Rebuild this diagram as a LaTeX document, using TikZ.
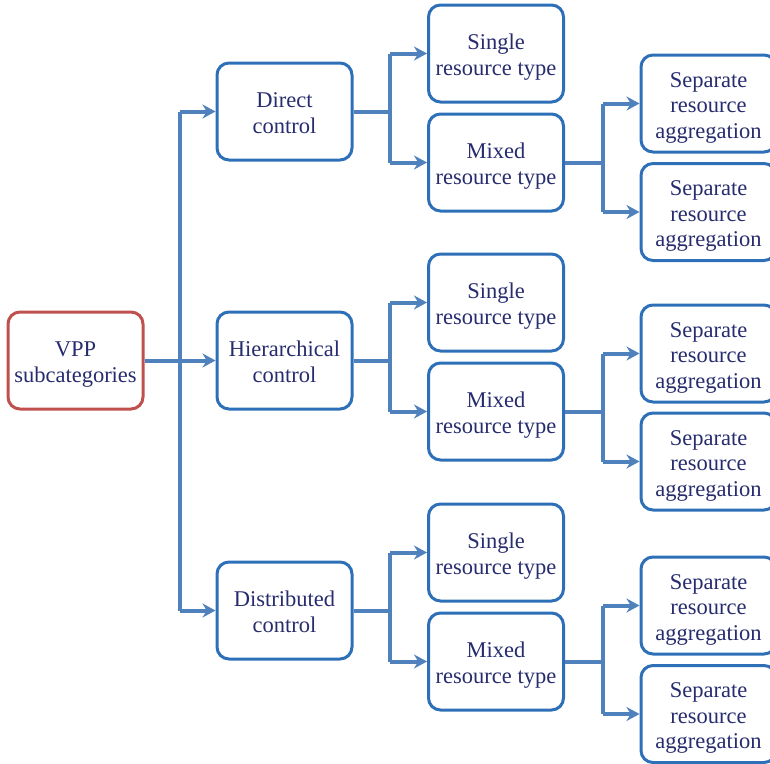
\documentclass[tikz,border=0pt]{standalone}
\usepackage{fontspec}
\setmainfont{Liberation Serif}
\usetikzlibrary{arrows.meta,calc}
\definecolor{boxblue}{HTML}{2E70B8}
\definecolor{linkblue}{HTML}{4F81BD}
\definecolor{boxred}{HTML}{C0504D}
\definecolor{txt}{HTML}{272C6E}
\newcommand{\btxt}[1]{\raisebox{-4pt}[\height][\depth]{\begin{tabular}{@{}c@{}}#1\end{tabular}}}
\tikzset{
  box/.style={draw=boxblue, line width=3pt, rounded corners=12pt, minimum width=135pt, minimum height=97pt,
    inner sep=0pt, text=txt, font=\fontsize{22.5}{25.5}\selectfont, fill=white},
  rootbox/.style={box, draw=boxred},
  conn/.style={draw=linkblue, line width=4pt},
  arr/.style={conn, -{Stealth[length=13pt,width=14pt]}}
}
\begin{document}
\begin{tikzpicture}[x=1pt,y=-1pt]
\clip (0,0) rectangle (770,763);
\node[rootbox] (vpp) at (75.5,360.5) {\btxt{VPP\\subcategories}};
\node[box] (c1) at (284.5,111.5) {\btxt{Direct\\control}};
\node[box] (c2) at (284.5,360.5) {\btxt{Hierarchical\\control}};
\node[box] (c3) at (284.5,610.5) {\btxt{Distributed\\control}};
\node[box] (s1) at (496,53.5) {\btxt{Single\\resource type}};
\node[box] (m1) at (496,162.5) {\btxt{Mixed\\resource type}};
\node[box] (s2) at (496,302.5) {\btxt{Single\\resource type}};
\node[box] (m2) at (496,411.5) {\btxt{Mixed\\resource type}};
\node[box] (s3) at (496,552.5) {\btxt{Single\\resource type}};
\node[box] (m3) at (496,661.5) {\btxt{Mixed\\resource type}};
\node[box] (a1) at (708.5,103.5) {\btxt{Separate\\resource\\aggregation}};
\node[box] (b1) at (708.5,212) {\btxt{Separate\\resource\\aggregation}};
\node[box] (a2) at (708.5,353.5) {\btxt{Separate\\resource\\aggregation}};
\node[box] (b2) at (708.5,461.5) {\btxt{Separate\\resource\\aggregation}};
\node[box] (a3) at (708.5,605.5) {\btxt{Separate\\resource\\aggregation}};
\node[box] (b3) at (708.5,714) {\btxt{Separate\\resource\\aggregation}};
% root connectors
\coordinate (t0) at (180,0);
\draw[conn] (vpp.east) -- (vpp.east -| t0);
\draw[conn] (t0 |- c1.west) -- (t0 |- c3.west);
\foreach \n in {c1,c2,c3} \draw[arr] (t0 |- \n.west) -- (\n.west);
% control -> type
\coordinate (t1) at (390,0);
\foreach \c/\s/\m in {c1/s1/m1,c2/s2/m2,c3/s3/m3}{
  \draw[conn] (\c.east) -- (\c.east -| t1);
  \draw[conn] (t1 |- \s.west) -- (t1 |- \m.west);
  \draw[arr] (t1 |- \s.west) -- (\s.west);
  \draw[arr] (t1 |- \m.west) -- (\m.west);
}
% mixed -> separate
\coordinate (t2) at (603,0);
\foreach \m/\a/\b in {m1/a1/b1,m2/a2/b2,m3/a3/b3}{
  \draw[conn] (\m.east) -- (\m.east -| t2);
  \draw[conn] (t2 |- \a.west) -- (t2 |- \b.west);
  \draw[arr] (t2 |- \a.west) -- (\a.west);
  \draw[arr] (t2 |- \b.west) -- (\b.west);
}
\end{tikzpicture}
\end{document}
